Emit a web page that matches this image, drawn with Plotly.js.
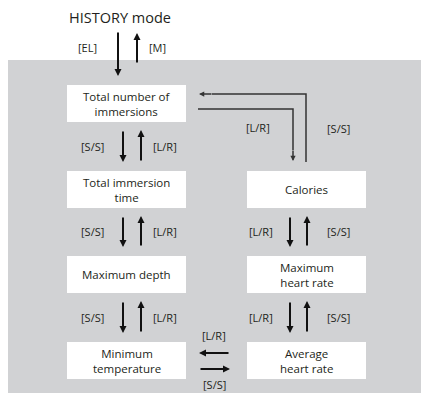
<!DOCTYPE html>
<html>
<head>
<meta charset="utf-8">
<script src="https://cdn.plot.ly/plotly-3.0.1.min.js"></script>
<style>html,body{margin:0;padding:0;background:#fff;}#chart{width:422px;height:403px;}</style>
</head>
<body>
<div id="chart"></div>
<script>
// ---- content ----
const titleText = "HISTORY mode";
const leftNodes = ["Total number of<br>immersions", "Total immersion<br>time", "Maximum depth", "Minimum<br>temperature"];
const rightNodes = ["", "Calories", "Maximum<br>heart rate", "Average<br>heart rate"];
const entryKeys = ["[EL]", "[M]"];
const leftKeys = ["[S/S]", "[L/R]"];   // down, up
const rightKeys = ["[L/R]", "[S/S]"];  // down, up
const loopKeys = ["[L/R]", "[S/S]"];
const bottomKeys = ["[L/R]", "[S/S]"];

// ---- geometry ----
const W = 422, H = 403;
const FONT = "Open Sans, Noto Sans, sans-serif";
const colL = [67, 186], colR = [247, 366];
const rows = [[85, 122], [171, 208], [256, 293], [342, 379]];
const gray = "rgb(209,210,212)";

const shapes = [];
const ann = [];

shapes.push({type: "rect", xref: "x", yref: "y", x0: 8, x1: 421, y0: 60, y1: 393,
  fillcolor: gray, line: {width: 0}, layer: "below"});

function box(col, row, label) {
  shapes.push({type: "rect", xref: "x", yref: "y", x0: col[0], x1: col[1], y0: row[0], y1: row[1],
    fillcolor: "#ffffff", line: {width: 0}, layer: "below"});
  ann.push({x: (col[0] + col[1]) / 2, y: (row[0] + row[1]) / 2, xref: "x", yref: "y",
    text: label, showarrow: false, xanchor: "center", yanchor: "middle",
    font: {family: FONT, size: 11.5, color: "#231f20"}});
}
function label(x, y, t, size) {
  ann.push({x: x, y: y, xref: "x", yref: "y", text: t, showarrow: false,
    xanchor: "center", yanchor: "middle", font: {family: FONT, size: size || 11, color: "#231f20"}});
}
function arrow(x0, y0, x1, y1, w, c) {
  ann.push({x: x1, y: y1, ax: x0, ay: y0, xref: "x", yref: "y", axref: "x", ayref: "y",
    text: "", showarrow: true, arrowhead: 2, arrowsize: 0.7, arrowwidth: w || 2,
    arrowcolor: c || "#111", standoff: 0, startstandoff: 0});
}
function polyline(pts, w, c) {
  let d = "M" + pts.map(p => p[0] + "," + p[1]).join(" L");
  shapes.push({type: "path", xref: "x", yref: "y", path: d, line: {color: c, width: w}});
}

// nodes
leftNodes.forEach((t, i) => box(colL, rows[i], t));
rightNodes.forEach((t, i) => { if (t) box(colR, rows[i], t); });

// title and entry arrows
label(120, 17, titleText, 14.5);
arrow(118, 31, 118, 76, 2);
arrow(137, 64, 137, 33, 2);
label(87, 47, entryKeys[0]);
label(157, 47, entryKeys[1]);

// left column vertical arrows
const lxD = 123, lxU = 141, rxD = 290, rxU = 307;
for (let i = 0; i < 3; i++) {
  const ya = rows[i][1] + 8, yb = rows[i + 1][0] - 9;
  const ym = (ya + yb) / 2;
  arrow(lxD, ya, lxD, yb, 2);
  arrow(lxU, yb, lxU, ya, 2);
  label(92, ym, leftKeys[0]);
  label(165, ym, leftKeys[1]);
}
// right column vertical arrows (from Calories down)
for (let i = 1; i < 3; i++) {
  const ya = rows[i][1] + 8, yb = rows[i + 1][0] - 9;
  const ym = (ya + yb) / 2;
  arrow(rxD, ya, rxD, yb, 2);
  arrow(rxU, yb, rxU, ya, 2);
  label(261, ym, rightKeys[0]);
  label(338, ym, rightKeys[1]);
}

// loop connector between Total number of immersions and Calories
const lc = "#333";
polyline([[198, 109], [293, 109], [293, 150]], 1.5, lc);
arrow(293, 149, 293, 161, 1.5, lc);
polyline([[306, 162], [306, 94], [212, 94]], 1.5, lc);
arrow(213, 94, 199, 94, 1.5, lc);
label(258, 127, loopKeys[0]);
label(338, 128, loopKeys[1]);

// bottom horizontal arrows
arrow(230, 353, 199, 353, 2);
arrow(199, 369, 230, 369, 2);
label(214, 335, bottomKeys[0]);
label(214, 384, bottomKeys[1]);

const layout = {
  width: W, height: H,
  margin: {l: 0, r: 0, t: 0, b: 0},
  paper_bgcolor: "#ffffff", plot_bgcolor: "#ffffff",
  xaxis: {range: [0, W], visible: false, fixedrange: true},
  yaxis: {range: [H, 0], visible: false, fixedrange: true},
  showlegend: false,
  shapes: shapes,
  annotations: ann
};
Plotly.newPlot("chart", [], layout, {staticPlot: true, displayModeBar: false});
</script>
</body>
</html>
